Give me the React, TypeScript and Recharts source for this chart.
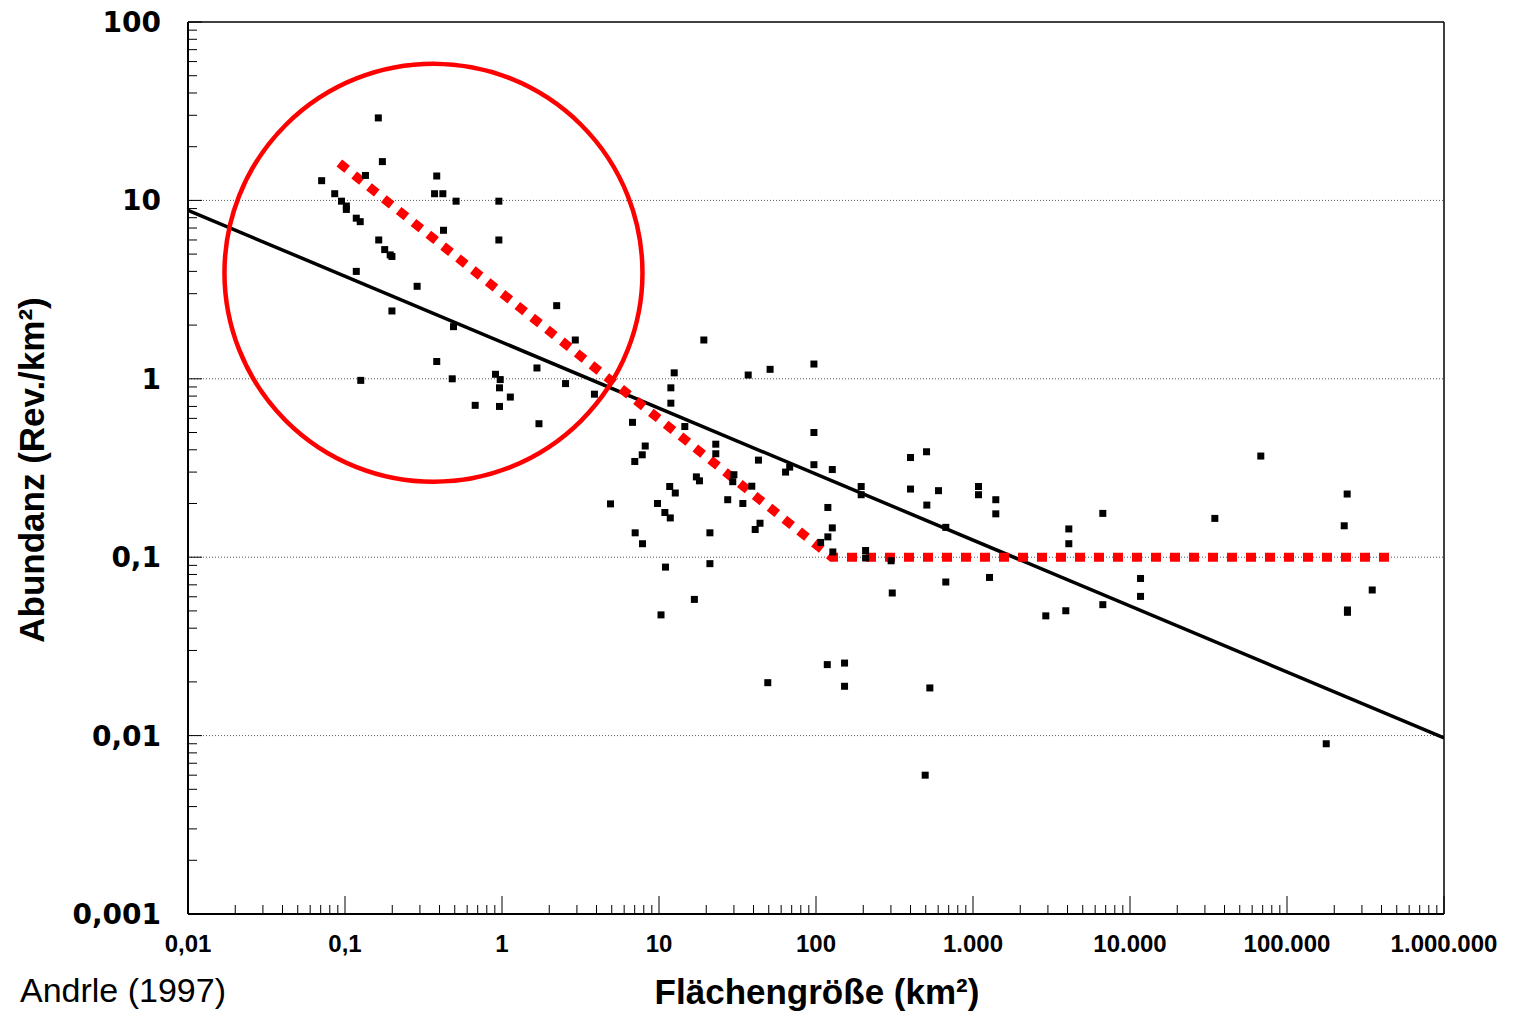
import React from "react";
import {
  ScatterChart,
  Scatter,
  XAxis,
  YAxis,
  ReferenceLine,
  ReferenceDot,
  Label,
} from "recharts";

// Fläche (km²) und Abundanz (Rev./km²) der einzelnen Untersuchungsflächen
const areaKm2 = [
  0.163, 0.173, 0.135, 0.071, 0.384, 0.086, 0.372, 0.42, 0.51, 0.955,
  0.095, 0.102, 0.102, 0.118, 0.125, 0.424, 0.955, 0.164, 0.179, 0.194,
  0.199, 0.118, 0.288, 0.199, 0.491, 0.384, 0.126, 0.482, 0.909, 0.974,
  0.964, 1.13, 0.675, 0.964, 2.23, 2.93, 19.3, 1.67, 12.5, 2.54,
  3.88, 11.9, 11.9, 1.72, 6.78, 14.6, 23.0, 23.0, 8.17, 7.82,
  7.01, 17.3, 18.1, 11.7, 12.7, 4.91, 9.78, 10.9, 11.8, 27.4,
  7.05, 7.85, 21.1, 11.0, 21.1, 16.8, 10.3, 37, 51, 97,
  97, 43, 68, 64, 97, 127, 30, 29.5, 39, 34.2,
  194, 194, 119, 44, 41, 127, 119, 107, 128, 207,
  207, 301, 306, 118, 152, 49.3, 152, 400, 506, 400,
  603, 1084, 1084, 1397, 1397, 508, 671, 4076, 4076, 6712,
  671, 1274, 2909, 3900, 6712, 531, 496, 68100, 241700, 34700,
  231400, 11670, 11670, 349000, 242700, 242700, 177800,
];
const abundance = [
  29, 16.5, 13.8, 12.9, 13.7, 10.9, 10.9, 10.9, 9.9, 9.9,
  9.9, 9.3, 8.9, 7.95, 7.6, 6.8, 6.0, 6.0, 5.3, 4.95,
  4.85, 4.0, 3.3, 2.4, 1.96, 1.25, 0.98, 1.0, 1.06, 0.99,
  0.89, 0.79, 0.71, 0.7, 2.57, 1.65, 1.65, 1.15, 1.08, 0.94,
  0.82, 0.89, 0.73, 0.56, 0.57, 0.54, 0.43, 0.38, 0.42, 0.375,
  0.344, 0.282, 0.268, 0.249, 0.229, 0.199, 0.2, 0.178, 0.166, 0.21,
  0.137, 0.119, 0.137, 0.088, 0.092, 0.058, 0.0475, 1.05, 1.13, 1.21,
  0.5, 0.35, 0.32, 0.3, 0.33, 0.31, 0.29, 0.265, 0.25, 0.2,
  0.249, 0.224, 0.19, 0.155, 0.143, 0.146, 0.13, 0.121, 0.107, 0.109,
  0.099, 0.0955, 0.063, 0.025, 0.0255, 0.0198, 0.0189, 0.362, 0.39, 0.241,
  0.236, 0.249, 0.224, 0.21, 0.175, 0.196, 0.147, 0.144, 0.119, 0.176,
  0.0726, 0.077, 0.0469, 0.0501, 0.0542, 0.0185, 0.006, 0.369, 0.226, 0.165,
  0.15, 0.076, 0.0603, 0.0655, 0.0506, 0.0491, 0.009,
];

// Regressionsgerade (schwarz) und Modell (rot gepunktet)
const fitArea = [0.01, 1000000];
const fitAbundance = [8.8, 0.0097];
const modelArea = [0.092, 126, 500000];
const modelAbundance = [16.2, 0.1, 0.1];

// markierter Bereich (Kreis)
const circleCenter = { x: 0.366, y: 3.93 };

const xMajor = [0.01, 0.1, 1, 10, 100, 1000, 10000, 100000, 1000000];
const xLabels = ["0,01", "0,1", "1", "10", "100", "1.000", "10.000", "100.000", "1.000.000"];
const yMajor = [0.001, 0.01, 0.1, 1, 10, 100];
const yLabels = ["0,001", "0,01", "0,1", "1", "10", "100"];
const gridLevels = [10, 1, 0.1, 0.01];

const withMinor = (majors: number[]) => {
  const out: number[] = [];
  majors.forEach((m, i) => {
    out.push(m);
    if (i < majors.length - 1) for (let k = 2; k <= 9; k++) out.push(m * k);
  });
  return out;
};

const majorIndex = (majors: number[], v: number) =>
  majors.findIndex((m) => Math.abs(Math.log10(m) - Math.log10(v)) < 1e-6);

const points = areaKm2.map((x, i) => ({ x, y: abundance[i] }));
const fitLine = fitArea.map((x, i) => ({ x, y: fitAbundance[i] }));
const modelLine = modelArea.map((x, i) => ({ x, y: modelAbundance[i] }));

const XTick = (props: any) => {
  const { x, y, payload } = props;
  const i = majorIndex(xMajor, payload.value);
  const major = i >= 0;
  return (
    <g>
      <line x1={x} y1={y} x2={x} y2={y - (major ? 18 : 9)} stroke="#000" strokeWidth={1} />
      {major && (
        <text
          x={x}
          y={y + 38}
          textAnchor="middle"
          fontFamily="'Liberation Sans', Arial, sans-serif"
          fontWeight="bold"
          fontSize={24}
          fill="#000"
        >
          {xLabels[i]}
        </text>
      )}
    </g>
  );
};

const YTick = (props: any) => {
  const { x, y, payload } = props;
  const i = majorIndex(yMajor, payload.value);
  const major = i >= 0;
  return (
    <g>
      <line x1={x} y1={y} x2={x + (major ? 14 : 9)} y2={y} stroke="#000" strokeWidth={1} />
      {major && (
        <text
          x={x - 27}
          y={y + 10}
          textAnchor="end"
          fontFamily="'DejaVu Sans', Verdana, sans-serif"
          fontWeight="bold"
          fontSize={28}
          fill="#000"
        >
          {yLabels[i]}
        </text>
      )}
    </g>
  );
};

const square = (props: any) => (
  <rect x={props.cx - 3.5} y={props.cy - 3.5} width={7} height={7} fill="#000" />
);

const noMarker = () => <g />;

export default function App() {
  return (
    <div style={{ position: "absolute", left: 0, top: 0, width: 1518, height: 1011, background: "#fff" }}>
      <ScatterChart
        width={1518}
        height={1011}
        margin={{ top: 22, right: 74, bottom: 37, left: 0 }}
      >
        <XAxis
          type="number"
          dataKey="x"
          scale="log"
          domain={[0.01, 1000000]}
          ticks={withMinor(xMajor)}
          interval={0}
          allowDataOverflow
          height={60}
          tickSize={0}
          tickMargin={0}
          tickLine={false}
          tick={<XTick />}
          axisLine={{ stroke: "#000", strokeWidth: 2 }}
        >
          <Label
            content={() => (
              <text
                x={817}
                y={1004}
                textAnchor="middle"
                fontFamily="'Liberation Sans', Arial, sans-serif"
                fontWeight="bold"
                fontSize={35}
                fill="#000"
              >
                Flächengröße (km²)
              </text>
            )}
          />
        </XAxis>
        <YAxis
          type="number"
          dataKey="y"
          scale="log"
          domain={[0.001, 100]}
          ticks={withMinor(yMajor)}
          interval={0}
          allowDataOverflow
          width={188}
          tickSize={0}
          tickMargin={0}
          tickLine={false}
          tick={<YTick />}
          axisLine={{ stroke: "#000", strokeWidth: 2 }}
        >
          <Label
            content={() => (
              <text
                x={44}
                y={470}
                transform="rotate(-90, 44, 470)"
                textAnchor="middle"
                fontFamily="'Liberation Sans', Arial, sans-serif"
                fontWeight="bold"
                fontSize={35}
                fill="#000"
              >
                Abundanz (Rev./km²)
              </text>
            )}
          />
        </YAxis>
        {gridLevels.map((v) => (
          <ReferenceLine key={v} y={v} stroke="#555" strokeWidth={1} strokeDasharray="1 2" />
        ))}
        <ReferenceLine y={100} stroke="#000" strokeWidth={1.5} />
        <ReferenceLine x={1000000} stroke="#000" strokeWidth={1.5} />
        <Scatter
          data={fitLine}
          fill="#000"
          line={{ stroke: "#000", strokeWidth: 3.5 }}
          shape={noMarker}
          isAnimationActive={false}
        />
        <Scatter
          data={modelLine}
          fill="#ff0000"
          line={{ stroke: "#ff0000", strokeWidth: 9, strokeDasharray: "10 9" }}
          shape={noMarker}
          isAnimationActive={false}
        />
        <ReferenceDot
          x={circleCenter.x}
          y={circleCenter.y}
          r={209}
          fill="none"
          stroke="#ff0000"
          strokeWidth={4.5}
        />
        <Scatter data={points} fill="#000" shape={square} isAnimationActive={false} />
      </ScatterChart>
      <div
        style={{
          position: "absolute",
          left: 20,
          top: 970,
          fontFamily: "'Liberation Sans', Arial, sans-serif",
          fontSize: 34,
          lineHeight: "40px",
          whiteSpace: "nowrap",
        }}
      >
        Andrle (1997)
      </div>
    </div>
  );
}
